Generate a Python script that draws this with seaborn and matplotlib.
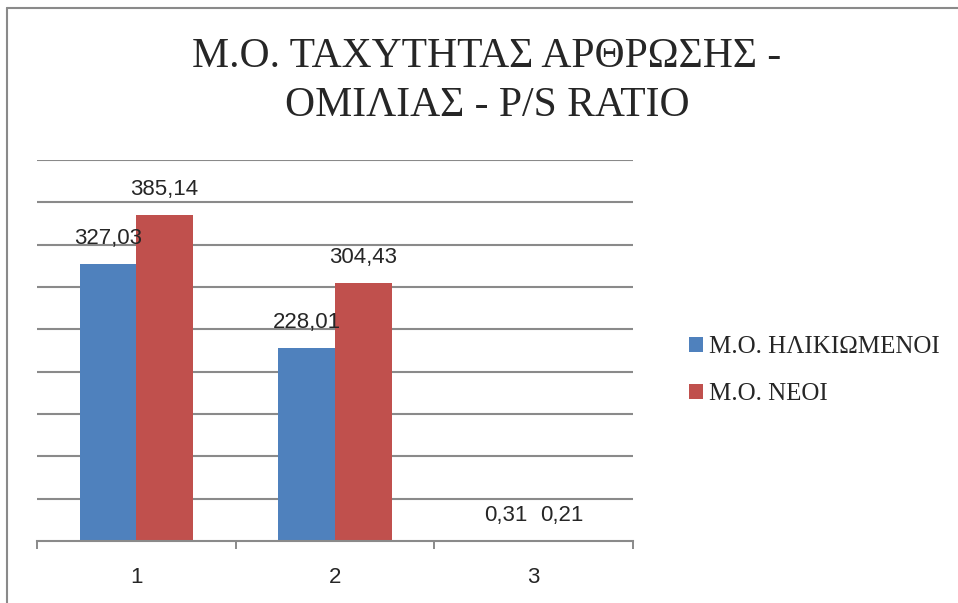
import pandas as pd
import matplotlib.pyplot as plt
import seaborn as sns
from matplotlib.patches import Patch
from matplotlib.lines import Line2D

# Chart data
categories = ['1', '2', '3']
series_names = ['Μ.Ο. ΗΛΙΚΙΩΜΕΝΟΙ', 'Μ.Ο. ΝΕΟΙ']
elderly = [327.03, 228.01, 0.31]
young = [385.14, 304.43, 0.21]
colors = ['#4F81BD', '#C0504D']
title = 'Μ.Ο. ΤΑΧΥΤΗΤΑΣ ΑΡΘΡΩΣΗΣ -\nΟΜΙΛΙΑΣ - P/S RATIO'

df = pd.DataFrame({
    'cat': categories * 2,
    'series': [series_names[0]] * 3 + [series_names[1]] * 3,
    'value': elderly + young,
})

sns.set_style('white')
plt.rcParams['font.family'] = ['Liberation Sans', 'DejaVu Sans']

W, H = 958, 603
fig = plt.figure(figsize=(W / 100, H / 100), dpi=100)
ax = fig.add_axes([37 / W, (H - 541) / H, 596 / W, 381 / H])

sns.barplot(data=df, x='cat', y='value', hue='series', order=categories,
            hue_order=series_names, palette=colors, width=0.57,
            linewidth=0, saturation=1, legend=False, ax=ax)

grid_col = '#8a8a8a'
ax.set_ylim(0, 450)
ax.set_xlim(-0.5, 2.5)
ax.set_yticks(range(50, 451, 50))
ax.yaxis.grid(True, color=grid_col, lw=1.5)
ax.set_axisbelow(True)
ax.tick_params(axis='y', left=False, labelleft=False)
for s in ['top', 'right', 'left']:
    ax.spines[s].set_visible(False)
ax.spines['bottom'].set_color(grid_col)
ax.spines['bottom'].set_linewidth(1.5)

# ticks between categories, labels centred
ax.set_xticks([-0.5, 0.5, 1.5, 2.5], minor=True)
ax.tick_params(axis='x', which='minor', length=6, width=1.4, color=grid_col, direction='out', bottom=True)
ax.tick_params(axis='x', which='major', length=0, pad=19, labelsize=16)
ax.set_xlabel('')
ax.set_ylabel('')

# value labels
for cont in ax.containers:
    for bar in cont:
        v = bar.get_height()
        ax.annotate(f'{v:.2f}'.replace('.', ','),
                    (bar.get_x() + bar.get_width() / 2, v),
                    xytext=(0, 14.4), textcoords='offset points',
                    ha='center', va='baseline', fontsize=16)

fig.text(487 / W, (H - 81) / H, title, ha='center', va='center',
         fontsize=30, family=['Liberation Serif', 'DejaVu Serif'], linespacing=1.36)

handles = [Patch(facecolor=c, edgecolor='none') for c in colors]
ax.legend(handles, series_names, loc='center left',
          bbox_to_anchor=(676 / W, (H - 370.5) / H), bbox_transform=fig.transFigure,
          frameon=False, borderpad=0, handlelength=0.56, handleheight=0.56,
          handletextpad=0.25, labelspacing=1.0,
          prop={'family': 'Liberation Serif', 'size': 18})

# outer chart frame (left and top only visible)
fig.add_artist(Line2D([7 / W, 1], [(H - 8) / H] * 2, color=grid_col, lw=1.5))
fig.add_artist(Line2D([7 / W] * 2, [0, (H - 8) / H], color=grid_col, lw=1.5))

plt.savefig('out.png', dpi=100)
plt.close()
